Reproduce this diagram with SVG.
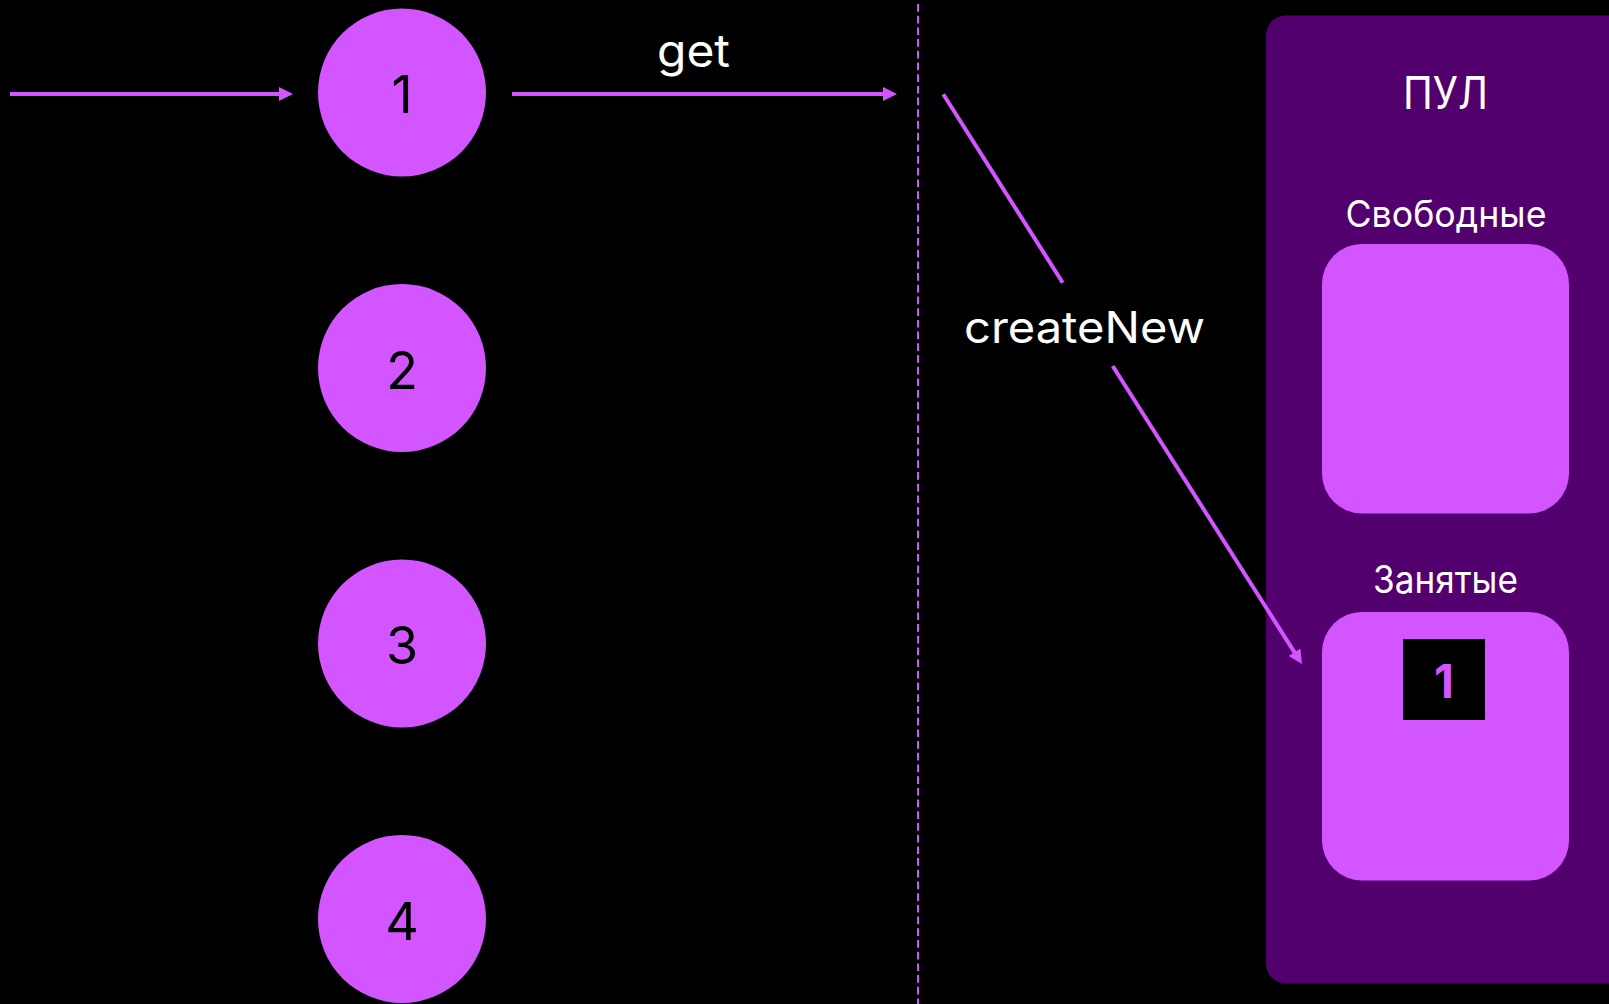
<svg xmlns="http://www.w3.org/2000/svg" width="1609" height="1004" viewBox="0 0 1609 1004">
  <style>
    .conn { stroke: #D355FF; stroke-width: 4; fill: none; }
    .node { fill: #D355FF; }
    .digit { font-family: Inter, "Liberation Sans", sans-serif; font-size: 52px; fill: #000; text-anchor: middle; }
    .label { font-family: Inter, "Liberation Sans", sans-serif; fill: #fff; }
  </style>
  <defs>
    <marker id="arrow" viewBox="0 0 14 14" refX="4" refY="7" markerWidth="14" markerHeight="14" markerUnits="userSpaceOnUse" orient="auto">
      <path d="M0,0 L14,7 L0,14 z" fill="#D355FF"/>
    </marker>
  </defs>
  <rect x="0" y="0" width="1609" height="1004" fill="#000"/>

  <g id="pool">
    <rect x="1266" y="15.5" width="400" height="968" rx="20" fill="#52006E"/>
    <text class="label" x="1403" y="109.3" font-size="45" textLength="85" lengthAdjust="spacingAndGlyphs">ПУЛ</text>
  </g>
  <g id="free">
    <text class="label" x="1345.5" y="226.7" font-size="37" textLength="201" lengthAdjust="spacingAndGlyphs">Свободные</text>
    <rect x="1322" y="244" width="247" height="269.5" rx="40" class="node"/>
  </g>
  <g id="busy">
    <text class="label" x="1373" y="593" font-size="38" textLength="145" lengthAdjust="spacingAndGlyphs">Занятые</text>
    <rect x="1322" y="612" width="247" height="268.5" rx="40" class="node"/>
  </g>
  <g id="busy-item-1">
    <rect x="1403" y="639" width="82" height="81" fill="#000"/>
    <text x="1444" y="698" font-family="Inter, 'Liberation Sans', sans-serif" font-size="46" font-weight="bold" fill="#D355FF" text-anchor="middle">1</text>
  </g>

  <g id="node-1">
    <circle cx="402" cy="92.5" r="84" class="node"/>
    <text class="digit" x="402" y="113">1</text>
  </g>
  <g id="node-2">
    <circle cx="402" cy="368" r="84" class="node"/>
    <text class="digit" x="402" y="388.5">2</text>
  </g>
  <g id="node-3">
    <circle cx="402" cy="643.5" r="84" class="node"/>
    <text class="digit" x="402" y="664">3</text>
  </g>
  <g id="node-4">
    <circle cx="402" cy="919" r="84" class="node"/>
    <text class="digit" x="402" y="939.5">4</text>
  </g>

  <g id="divider">
    <line x1="918" y1="4" x2="918" y2="1004" stroke="#D355FF" stroke-width="2" stroke-dasharray="7.7 4"/>
  </g>

  <g id="connectors">
    <line class="conn" x1="10" y1="94" x2="283" y2="94" marker-end="url(#arrow)"/>
    <line class="conn" x1="512" y1="94" x2="887" y2="94" marker-end="url(#arrow)"/>
    <text class="label" x="657" y="67.3" font-size="45" textLength="73" lengthAdjust="spacingAndGlyphs">get</text>
    <line class="conn" x1="943.3" y1="94.3" x2="1062.7" y2="282.7"/>
    <line class="conn" x1="1112.7" y1="366" x2="1296.6" y2="655.6" marker-end="url(#arrow)"/>
    <text class="label" x="964" y="342.7" font-size="44" textLength="241" lengthAdjust="spacingAndGlyphs">createNew</text>
  </g>
</svg>
